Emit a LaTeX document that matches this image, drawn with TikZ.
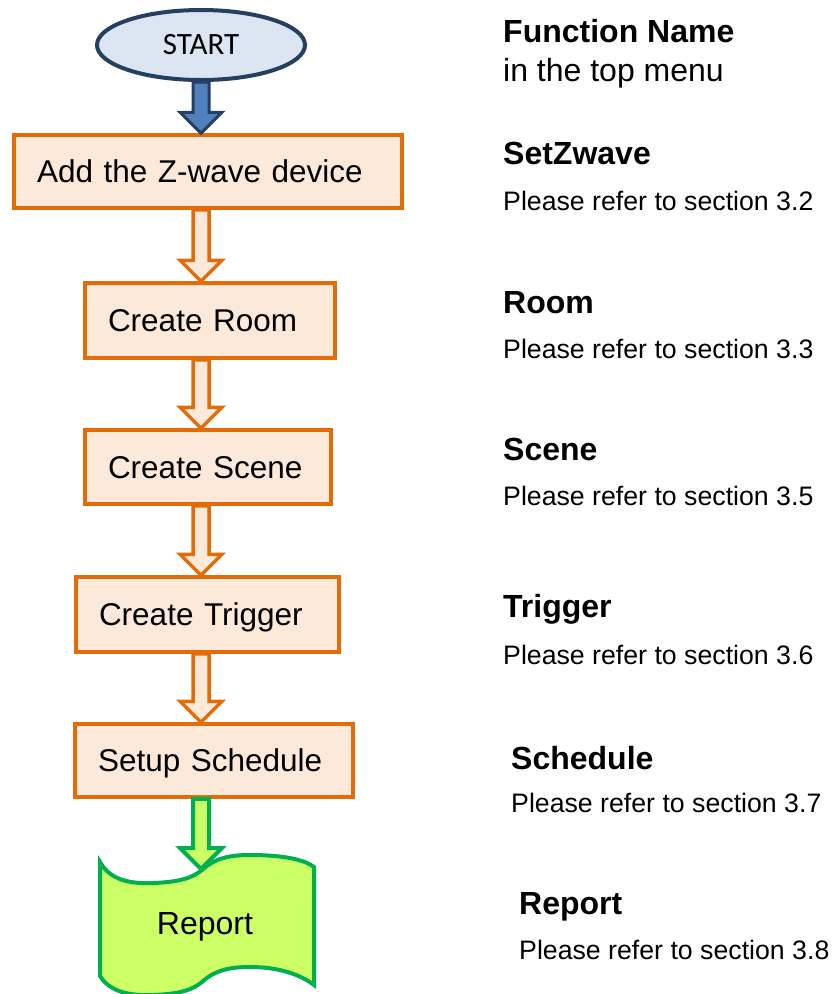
\documentclass[tikz,border=0pt]{standalone}
\usepackage{fontspec}
\setmainfont{Liberation Sans}
\newfontfamily\startfont{Carlito}
\usetikzlibrary{calc,shapes.geometric}
\definecolor{boxfill}{HTML}{FDE9D9}
\definecolor{boxline}{HTML}{E36C09}
\definecolor{startfill}{HTML}{DCE6F2}
\definecolor{startline}{HTML}{243F60}
\definecolor{bluefill}{HTML}{4F81BD}
\definecolor{greenfill}{HTML}{CCFF66}
\definecolor{greenline}{HTML}{00B050}
\newcommand{\blockarrow}[3]{%
  \draw[#1] let \p1=(#2), \p2=(#3) in
    (\x1-8pt,\y1) -- (\x1+8pt,\y1) -- (\x1+8pt,\y2+21pt) -- (\x1+21pt,\y2+21pt)
    -- (\x1,\y2) -- (\x1-21pt,\y2+21pt) -- (\x1-8pt,\y2+21pt) -- cycle;}

\begin{document}
\begin{tikzpicture}[x=1pt,y=-1pt,
stepbox/.style={draw=boxline, fill=boxfill, line width=3.5pt, inner xsep=23pt, inner ysep=0pt,
  align=left, text height=26pt, text depth=4pt, font=\fontsize{31.5}{38}\selectfont},
startnode/.style={ellipse, draw=startline, fill=startfill, line width=4pt, minimum width=208, minimum height=70, font=\startfont\fontsize{31}{36}\selectfont},
orangearrow/.style={draw=boxline, fill=boxfill, line width=3.5pt},
bluearrow/.style={draw=startline, fill=bluefill, line width=3pt},
greenarrow/.style={draw=greenline, fill=greenfill, line width=4pt},
fname/.style={anchor=base west, inner sep=0pt, font=\bfseries\fontsize{32}{38}\selectfont},
fnote/.style={anchor=base west, inner sep=0pt, font=\fontsize{26.7}{32}\selectfont}]
\useasboundingbox (0,0) rectangle (839,994);
\node[startnode] (start) at (201,45) {START};
\node[stepbox, text width=342pt, minimum height=73] (zwave) at (208,171.5) {Add the Z-wave device};
\node[stepbox, text width=204pt, minimum height=75] (room) at (210,320.5) {Create Room};
\node[stepbox, text width=200pt, minimum height=74] (scene) at (208,467) {Create Scene};
\node[stepbox, text width=217pt, minimum height=75] (trigger) at (207.5,614.5) {Create Trigger};
\node[stepbox, text width=232pt, minimum height=73] (schedule) at (214,760.5) {Setup Schedule};
\draw[greenline, fill=greenfill, line width=4pt]
  (100,862) .. controls (110,880) and (130,884) .. (153,883)
  .. controls (180,882) and (192,878) .. (202,870)
  .. controls (215,858) and (230,855) .. (250,855)
  .. controls (285,855) and (305,860) .. (314,867) -- (314,985)
  .. controls (305,978) and (285,967) .. (250,967)
  .. controls (230,967) and (215,970) .. (202,982)
  .. controls (192,990) and (180,994) .. (153,995)
  .. controls (130,996) and (110,992) .. (100,976) -- cycle;
\node[font=\fontsize{32}{38}\selectfont] (report) at (205,927) {Report};
\coordinate (reporttop) at (201,869);
\blockarrow{bluearrow}{start.south}{start.south |- zwave.north}
\blockarrow{orangearrow}{start.south |- zwave.south}{start.south |- room.north}
\blockarrow{orangearrow}{start.south |- room.south}{start.south |- scene.north}
\blockarrow{orangearrow}{start.south |- scene.south}{start.south |- trigger.north}
\blockarrow{orangearrow}{start.south |- trigger.south}{start.south |- schedule.north}
\blockarrow{greenarrow}{start.south |- schedule.south}{reporttop}
\node[fname] (hfunc) at (503,42) {Function Name};
\node[anchor=base west, inner sep=0pt, font=\fontsize{32}{38}\selectfont] (hmenu) at (503,81) {in the top menu};
\node[fname] (nzwave) at (503,164) {SetZwave};
\node[fnote] (szwave) at (503,210.5) {Please refer to section 3.2};
\node[fname] (nroom) at (503,313) {Room};
\node[fnote] (sroom) at (503,358.5) {Please refer to section 3.3};
\node[fname] (nscene) at (503,460) {Scene};
\node[fnote] (sscene) at (503,505.5) {Please refer to section 3.5};
\node[fname] (ntrigger) at (503,617.5) {Trigger};
\node[fnote] (strigger) at (503,664.5) {Please refer to section 3.6};
\node[fname] (nschedule) at (511,769) {Schedule};
\node[fnote] (sschedule) at (511,812.5) {Please refer to section 3.7};
\node[fname] (nreport) at (519,914) {Report};
\node[fnote] (sreport) at (519,959.5) {Please refer to section 3.8};
\end{tikzpicture}
\end{document}
